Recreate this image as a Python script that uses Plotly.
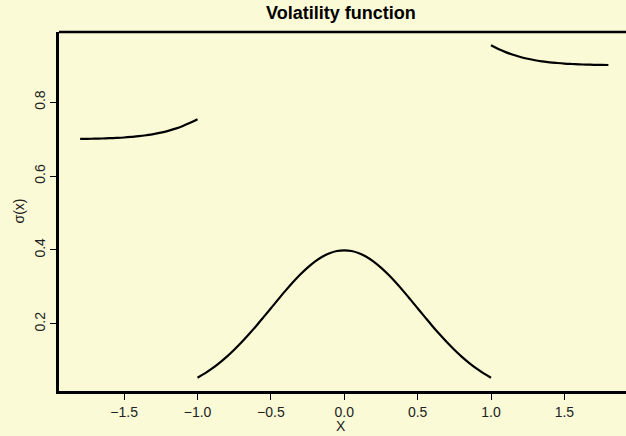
import plotly.graph_objects as go

# Volatility function sigma(x), piecewise on three intervals
x_left = [-1.80, -1.75, -1.70, -1.65, -1.60, -1.55, -1.50, -1.45, -1.40,
          -1.35, -1.30, -1.25, -1.20, -1.15, -1.10, -1.05, -1.00]
y_left = [0.7006, 0.7009, 0.7012, 0.7017, 0.7024, 0.7033, 0.7044, 0.7060, 0.7079,
          0.7104, 0.7134, 0.7175, 0.7224, 0.7283, 0.7355, 0.7440, 0.7540]

x_mid = [-1.00, -0.95, -0.90, -0.85, -0.80, -0.75, -0.70, -0.65, -0.60, -0.55,
         -0.50, -0.45, -0.40, -0.35, -0.30, -0.25, -0.20, -0.15, -0.10, -0.05,
         0.00, 0.05, 0.10, 0.15, 0.20, 0.25, 0.30, 0.35, 0.40, 0.45,
         0.50, 0.55, 0.60, 0.65, 0.70, 0.75, 0.80, 0.85, 0.90, 0.95, 1.00]
y_mid = [0.0540, 0.0656, 0.0790, 0.0941, 0.1109, 0.1295, 0.1497, 0.1714, 0.1942, 0.2179,
         0.2420, 0.2661, 0.2897, 0.3123, 0.3332, 0.3521, 0.3683, 0.3814, 0.3910, 0.3970,
         0.3989, 0.3970, 0.3910, 0.3814, 0.3683, 0.3521, 0.3332, 0.3123, 0.2897, 0.2661,
         0.2420, 0.2179, 0.1942, 0.1714, 0.1497, 0.1295, 0.1109, 0.0941, 0.0790, 0.0656, 0.0540]

x_right = [1.00, 1.05, 1.10, 1.15, 1.20, 1.25, 1.30, 1.35, 1.40,
           1.45, 1.50, 1.55, 1.60, 1.65, 1.70, 1.75, 1.80]
y_right = [0.9540, 0.9440, 0.9355, 0.9283, 0.9224, 0.9175, 0.9134, 0.9104, 0.9079,
           0.9060, 0.9044, 0.9033, 0.9024, 0.9017, 0.9012, 0.9009, 0.9006]

x_ticks = [-1.5, -1.0, -0.5, 0.0, 0.5, 1.0, 1.5]
x_tick_text = ["\u22121.5", "\u22121.0", "\u22120.5", "0.0", "0.5", "1.0", "1.5"]
y_ticks = [0.2, 0.4, 0.6, 0.8]
y_tick_text = ["0.2", "0.4", "0.6", "0.8"]

BG = "#FAFAD6"
FONT = "Liberation Sans, Arial, Helvetica, sans-serif"

fig = go.Figure()
for xs, ys in [(x_left, y_left), (x_mid, y_mid), (x_right, y_right)]:
    fig.add_trace(go.Scatter(x=xs, y=ys, mode="lines",
                             line=dict(color="black", width=2.2, shape="spline"),
                             showlegend=False, hoverinfo="skip"))

fig.update_layout(
    width=626, height=436,
    margin=dict(l=59, r=0, t=32, b=45),
    paper_bgcolor=BG, plot_bgcolor=BG,
    font=dict(family=FONT, size=14, color="black"),
    xaxis=dict(range=[-1.944, 1.920], showgrid=False, zeroline=False,
               showline=True, linecolor="black", linewidth=2.5,
               ticks="outside", ticklen=6, tickwidth=1, tickcolor="black",
               tickvals=x_ticks, ticktext=x_tick_text,
               tickfont=dict(size=14, color="#222")),
    yaxis=dict(range=[0.018, 0.990], showgrid=False, zeroline=False,
               showline=True, linecolor="black", linewidth=2.5,
               ticks="outside", ticklen=6, tickwidth=1, tickcolor="black",
               tickvals=y_ticks, ticktext=y_tick_text, tickangle=-90,
               tickfont=dict(size=14, color="#222")),
    shapes=[dict(type="line", xref="paper", yref="paper", x0=0, x1=1.02, y0=1, y1=1,
                 line=dict(color="black", width=2.5))],
    annotations=[
        dict(text="<b>Volatility function</b>", xref="paper", yref="paper",
             x=0.497, y=1, yanchor="middle", yshift=19, showarrow=False,
             font=dict(size=18, color="black")),
        dict(text="X", xref="paper", yref="paper", x=0.497, y=0,
             yanchor="middle", yshift=-35,
             showarrow=False, font=dict(size=14, color="#222")),
        dict(text="\u03c3(x)", xref="paper", yref="paper", x=0, xanchor="center",
             xshift=-41, y=0.5, yanchor="middle",
             textangle=-90, showarrow=False, font=dict(size=14, color="#222")),
    ],
)

fig.write_html("out.html")
